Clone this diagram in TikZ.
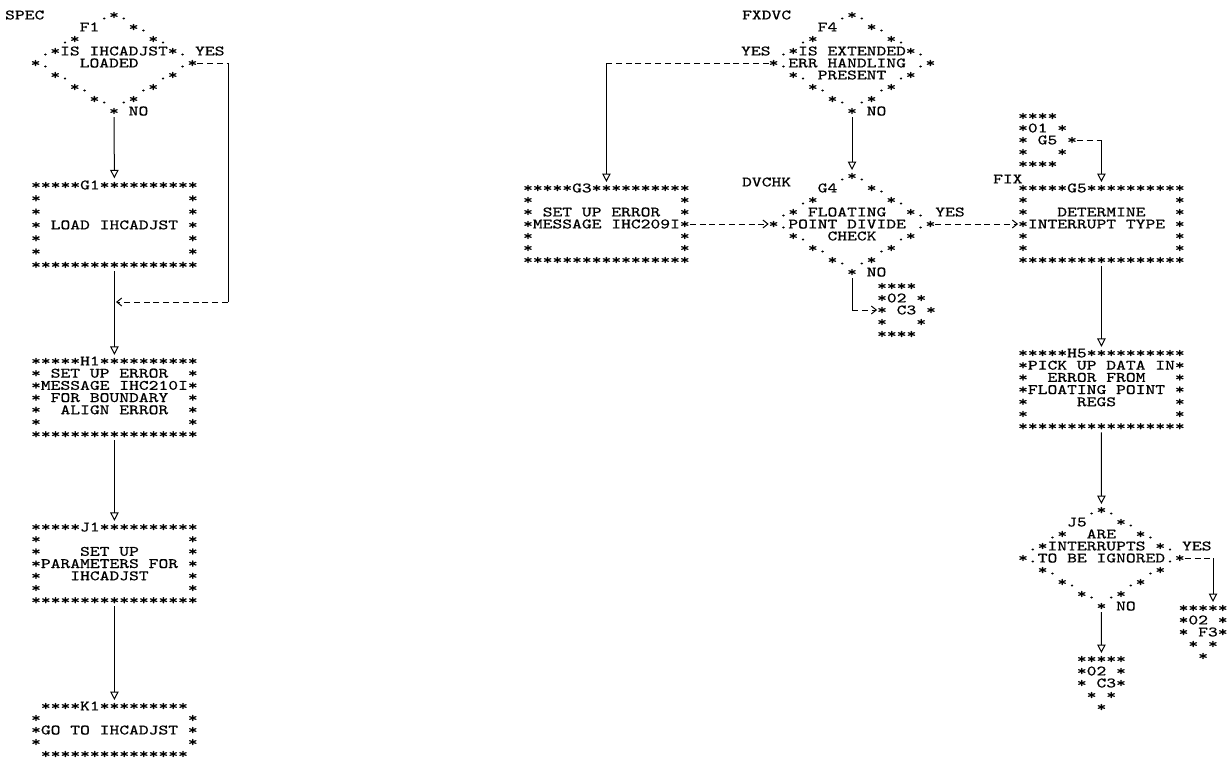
\documentclass[tikz,border=0pt]{standalone}
\usepackage{fontspec}
\usetikzlibrary{arrows.meta}
\newfontfamily\prfam[FakeStretch=1.3,FakeBold=0.7]{lmmono10-regular.otf}
\newcommand\prfont{\prfam\fontsize{14.36pt}{12pt}\selectfont}
\newcommand\blk[2]{\vtop{\def~{\hphantom{0}}\def\curL{#1}\baselineskip=#1\relax\lineskip=0pt\relax\lineskiplimit=-100pt\relax #2}}
\newcommand\prow[1]{\hbox{\vrule height\dimexpr4.4pt+\curL/2\relax depth\dimexpr\curL/2-4.4pt\relax width0pt\relax#1}}
\begin{document}
\begin{tikzpicture}[x=1pt,y=-1pt,
  txt/.style={inner sep=0pt,outer sep=0pt,anchor=base west,xshift=-4.9pt,yshift=-4.4pt,font=\prfont},
  flow/.style={line width=1pt},
  dflow/.style={line width=1pt,dash pattern=on 6pt off 3.8pt},
  vtip/.style={-{Triangle[open,length=8.5pt,width=8.5pt]}},
  htip/.style={-{Straight Barb[length=5pt,width=8pt]}}]
\useasboundingbox (0,0) rectangle (1228,761);

% ---------- left column ----------
\node[txt] (spec) at (10,15) {SPEC};
\node[txt] (F1) at (35.6,15) {\blk{12pt}{%
\prow{~~~~~~~.*.}
\prow{~~~~~F1~~~*.}
\prow{~~~.*~~~~~~~*.}
\prow{~.*IS~IHCADJST*.}
\prow{*.~~~LOADED~~~~.*}
\prow{~~*.~~~~~~~~~.*}
\prow{~~~~*.~~~~~.*}
\prow{~~~~~~*.~.*}
\prow{~~~~~~~~*}}};
\node[txt] (F1yes) at (200,51) {YES};
\node[txt] (F1no) at (133.6,111) {NO};

\node[txt] (G1) at (36,185) {\blk{13.3pt}{%
\prow{*****G1**********}
\prow{*~~~~~~~~~~~~~~~*}
\prow{*~~~~~~~~~~~~~~~*}
\prow{*~LOAD~IHCADJST~*}
\prow{*~~~~~~~~~~~~~~~*}
\prow{*~~~~~~~~~~~~~~~*}
\prow{*****************}}};

\node[txt] (H1) at (36,361) {\blk{12.2pt}{%
\prow{*****H1**********}
\prow{*~SET~UP~ERROR~~*}
\prow{*MESSAGE~IHC210I*}
\prow{*~FOR~BOUNDARY~~*}
\prow{*~~ALIGN~ERROR~~*}
\prow{*~~~~~~~~~~~~~~~*}
\prow{*****************}}};

\node[txt] (J1) at (36,527) {\blk{12.2pt}{%
\prow{*****J1**********}
\prow{*~~~~~~~~~~~~~~~*}
\prow{*~~~~SET~UP~~~~~*}
\prow{*PARAMETERS~FOR~*}
\prow{*~~~IHCADJST~~~~*}
\prow{*~~~~~~~~~~~~~~~*}
\prow{*****************}}};

\node[txt] (K1) at (36,706) {\blk{12pt}{%
\prow{~****K1*********}
\prow{*~~~~~~~~~~~~~~~*}
\prow{*GO~TO~IHCADJST~*}
\prow{*~~~~~~~~~~~~~~~*}
\prow{~***************}}};

% ---------- right part ----------
\node[txt] (fxdvc) at (747,15) {FXDVC};
\node[txt] (F4) at (773.6,15) {\blk{12pt}{%
\prow{~~~~~~~.*.}
\prow{~~~~~F4~~~*.}
\prow{~~~.*~~~~~~~*.}
\prow{~.*IS~EXTENDED*.}
\prow{*.ERR~HANDLING~.*}
\prow{~~*.~PRESENT~.*}
\prow{~~~~*.~~~~~.*}
\prow{~~~~~~*.~.*}
\prow{~~~~~~~~*}}};
\node[txt] (F4yes) at (746,51) {YES};
\node[txt] (F4no) at (871.6,111) {NO};

\node[txt] (G3) at (528,188) {\blk{12pt}{%
\prow{*****G3**********}
\prow{*~~~~~~~~~~~~~~~*}
\prow{*~SET~UP~ERROR~~*}
\prow{*MESSAGE~IHC209I*}
\prow{*~~~~~~~~~~~~~~~*}
\prow{*~~~~~~~~~~~~~~~*}
\prow{*****************}}};

\node[txt] (dvchk) at (747,182) {DVCHK};
\node[txt] (G4) at (773.6,176) {\blk{12pt}{%
\prow{~~~~~~~.*.}
\prow{~~~~~G4~~~*.}
\prow{~~~.*~~~~~~~*.}
\prow{~.*~FLOATING~~*.}
\prow{*.POINT~DIVIDE~.*}
\prow{~~*.~~CHECK~~.*}
\prow{~~~~*.~~~~~.*}
\prow{~~~~~~*.~.*}
\prow{~~~~~~~~*}}};
\node[txt] (G4yes) at (940.2,212) {YES};
\node[txt] (G4no) at (871.6,272) {NO};

\node[txt] (C3a) at (882,286) {\blk{12pt}{%
\prow{****}
\prow{*02~*}
\prow{*~C3~*}
\prow{*~~~*}
\prow{****}}};

\node[txt] (C01) at (1023,116) {\blk{12pt}{%
\prow{****}
\prow{*01~*}
\prow{*~G5~*}
\prow{*~~~*}
\prow{****}}};

\node[txt] (fix) at (998,179) {FIX};
\node[txt] (G5) at (1023,188) {\blk{12pt}{%
\prow{*****G5**********}
\prow{*~~~~~~~~~~~~~~~*}
\prow{*~~~DETERMINE~~~*}
\prow{*INTERRUPT~TYPE~*}
\prow{*~~~~~~~~~~~~~~~*}
\prow{*~~~~~~~~~~~~~~~*}
\prow{*****************}}};

\node[txt] (H5) at (1023,353) {\blk{12.2pt}{%
\prow{*****H5**********}
\prow{*PICK~UP~DATA~IN*}
\prow{*~~ERROR~FROM~~~*}
\prow{*FLOATING~POINT~*}
\prow{*~~~~~REGS~~~~~~*}
\prow{*~~~~~~~~~~~~~~~*}
\prow{*****************}}};

\node[txt] (J5) at (1023,510) {\blk{12pt}{%
\prow{~~~~~~~.*.}
\prow{~~~~~J5~~~*.}
\prow{~~~.*~~ARE~~*.}
\prow{~.*INTERRUPTS~*.}
\prow{*.TO~BE~IGNORED.*}
\prow{~~*.~~~~~~~~~.*}
\prow{~~~~*.~~~~~.*}
\prow{~~~~~~*.~.*}
\prow{~~~~~~~~*}}};
\node[txt] (J5yes) at (1187,546) {YES};
\node[txt] (J5no) at (1121,606) {NO};

\node[txt] (C3b) at (1081.8,659) {\blk{12pt}{%
\prow{*****}
\prow{*02~*}
\prow{*~C3*}
\prow{~*~*}
\prow{~~*}}};

\node[txt] (F3) at (1183.5,608) {\blk{12pt}{%
\prow{*****}
\prow{*02~*}
\prow{*~F3*}
\prow{~*~*}
\prow{~~*}}};

% ---------- connectors ----------
\coordinate (f1c) at (228,302);
\coordinate (m1) at (116,302);
\coordinate (f3x) at (1213,558);

\draw[flow,vtip] (F1.south) -- (G1.north);
\draw[dflow] (F1.east) -- (F1.east -| f1c);
\draw[flow] (F1.east -| f1c) -- (f1c);
\draw[dflow,htip] (f1c) -- (m1);
\draw[flow,vtip] (G1.south) -- (H1.north);
\draw[flow,vtip] (H1.south) -- (J1.north);
\draw[flow,vtip] (J1.south) -- (K1.north);

\draw[dflow] (F4.west) -- (F4.west -| G3.north);
\draw[flow,vtip] (F4.west -| G3.north) -- (G3.north);
\draw[flow,vtip] (F4.south) -- (G4.north);
\draw[dflow,htip] (G3.east) -- (G4.west);
\draw[dflow,htip] (G4.east) -- (G5.west);
\draw[flow] (G4.south) -- (G4.south |- C3a.west);
\draw[dflow,htip] (G4.south |- C3a.west) -- (C3a.west);
\draw[dflow] (C01.east) -- (C01.east -| G5.north);
\draw[flow,vtip] (C01.east -| G5.north) -- (G5.north);
\draw[flow,vtip] (G5.south) -- (H5.north);
\draw[flow,vtip] (H5.south) -- (J5.north);
\draw[dflow] (J5.east) -- (J5.east -| f3x);
\draw[flow,vtip] (J5.east -| f3x) -- (f3x |- F3.north);
\draw[flow,vtip] (J5.south) -- (C3b.north);
\end{tikzpicture}
\end{document}
